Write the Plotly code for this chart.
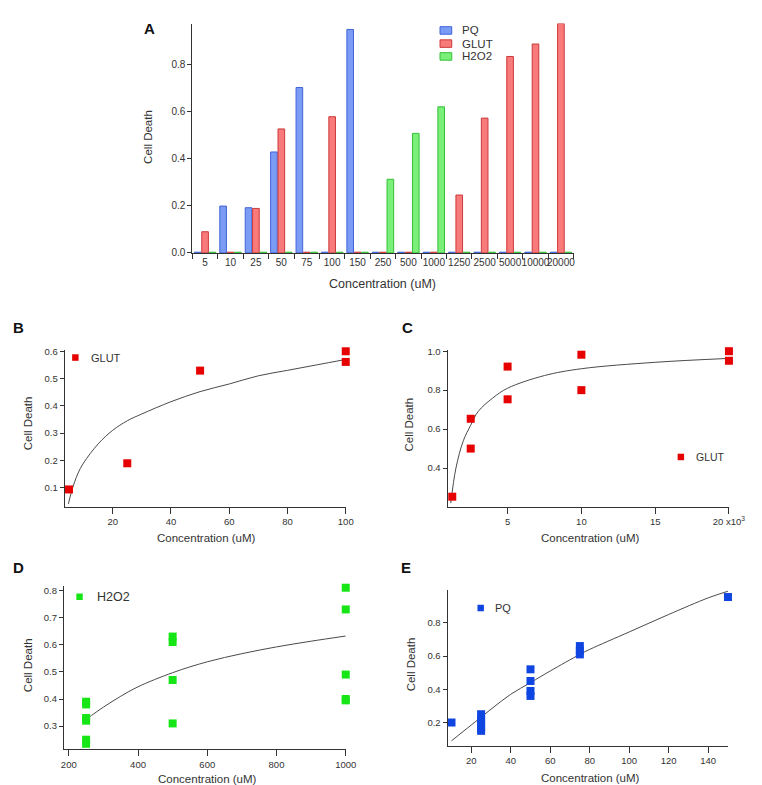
import plotly.graph_objects as go

# panel A - bar chart, cell death per concentration
conc_labels = ['5', '10', '25', '50', '75', '100', '150', '250', '500', '1000',
               '1250', '2500', '5000', '10000', '20000']
pq_bar = [0, 0.199, 0.192, 0.429, 0.703, 0, 0.950, 0, 0, 0, 0, 0, 0, 0, 0]
glut_bar = [0.090, 0, 0.189, 0.527, 0, 0.579, 0, 0, 0, 0, 0.246, 0.573, 0.835, 0.888, 0.975]
h2o2_bar = [0, 0, 0, 0, 0, 0, 0, 0.313, 0.508, 0.621, 0, 0, 0, 0, 0]

# panel B - GLUT low range
glut_lo_x = [5, 25, 50, 100, 100]
glut_lo_y = [0.093, 0.189, 0.529, 0.600, 0.561]
glut_lo_fit_x = [4.8, 6, 8, 10, 15, 20, 25, 30, 40, 50, 60, 70, 80, 90, 100]
glut_lo_fit_y = [0.04, 0.09, 0.15, 0.19, 0.26, 0.31, 0.345, 0.37, 0.415, 0.452, 0.48, 0.51, 0.53, 0.55, 0.57]

# panel C - GLUT high range
glut_hi_x = [1250, 2500, 2500, 5000, 5000, 10000, 10000, 20000, 20000]
glut_hi_y = [0.253, 0.653, 0.500, 0.921, 0.753, 0.982, 0.800, 1.000, 0.951]
glut_hi_fit_x = [1150, 1500, 2000, 2500, 3000, 4000, 5000, 7500, 10000, 15000, 20000]
glut_hi_fit_y = [0.22, 0.40, 0.54, 0.62, 0.69, 0.76, 0.81, 0.875, 0.91, 0.943, 0.963]

# panel D - H2O2
h2o2_x = [250, 250, 250, 250, 250, 250, 500, 500, 500, 500, 1000, 1000, 1000, 1000, 1000]
h2o2_y = [0.39, 0.38, 0.33, 0.32, 0.25, 0.235, 0.63, 0.61, 0.47, 0.31, 0.81, 0.73, 0.49, 0.40, 0.395]
h2o2_fit_x = [250, 300, 350, 400, 500, 600, 700, 800, 900, 1000]
h2o2_fit_y = [0.325, 0.37, 0.41, 0.445, 0.497, 0.537, 0.567, 0.592, 0.613, 0.632]

# panel E - PQ
pq_x = [10, 25, 25, 25, 25, 25, 50, 50, 50, 50, 75, 75, 75, 150]
pq_y = [0.20, 0.25, 0.22, 0.20, 0.17, 0.15, 0.52, 0.45, 0.39, 0.36, 0.66, 0.63, 0.61, 0.955]
pq_fit_x = [10, 20, 30, 40, 50, 60, 75, 80, 100, 120, 140, 150]
pq_fit_y = [0.09, 0.185, 0.28, 0.37, 0.44, 0.51, 0.61, 0.64, 0.745, 0.85, 0.95, 0.99]

W, H = 762, 785
FONT = "Liberation Sans, Arial, sans-serif"
TXT = "#333333"
AX = "#333333"


def fx(p):
    return p / W


def fy(p):
    return 1 - p / H


fig = go.Figure()

# --- panel A bars
bar_styles = [("PQ", pq_bar, "#7b9cf5", "#3f63d8"),
              ("GLUT", glut_bar, "#f87a7a", "#cc3a3a"),
              ("H2O2", h2o2_bar, "#7af07a", "#35c035")]
for name, vals, fill, edge in bar_styles:
    # zero bars are drawn as a thin coloured line on the baseline
    shown = [v if v > 0 else 0.003 for v in vals]
    fig.add_trace(go.Bar(x=conc_labels, y=shown, name=name, marker_color=fill,
                         marker_line_color=edge, marker_line_width=1,
                         xaxis="x", yaxis="y", showlegend=False))

line_col = "#4a4a4a"


def scatter_panel(n, xs, ys, fx_, fy_, color):
    fig.add_trace(go.Scatter(x=fx_, y=fy_, mode="lines", line=dict(color=line_col, width=1, shape="spline"),
                             xaxis="x%d" % n, yaxis="y%d" % n, showlegend=False))
    fig.add_trace(go.Scatter(x=xs, y=ys, mode="markers",
                             marker=dict(symbol="square", size=8, color=color, line_width=0),
                             cliponaxis=False, xaxis="x%d" % n, yaxis="y%d" % n, showlegend=False))


RED = "#e60000"
GREEN = "#16e616"
BLUE = "#0f45e0"
scatter_panel(2, glut_lo_x, glut_lo_y, glut_lo_fit_x, glut_lo_fit_y, RED)
scatter_panel(3, glut_hi_x, glut_hi_y, glut_hi_fit_x, glut_hi_fit_y, RED)
scatter_panel(4, h2o2_x, h2o2_y, h2o2_fit_x, h2o2_fit_y, GREEN)
scatter_panel(5, pq_x, pq_y, pq_fit_x, pq_fit_y, BLUE)

tickfont = dict(family=FONT, size=9.5, color=TXT)
common = dict(showgrid=False, zeroline=False, showline=True, linecolor=AX, linewidth=1,
              ticks="outside", tickcolor=AX, tickwidth=1, tickfont=tickfont)


def xax(x0, x1, y, rng, **kw):
    d = dict(common)
    d.update(domain=[fx(x0), fx(x1)], anchor=kw.pop("anchor"), range=rng, ticklen=6, tickangle=0)
    d.update(kw)
    return d


def yax(y_top, y_bot, rng, **kw):
    d = dict(common)
    d.update(domain=[fy(y_bot), fy(y_top)], anchor=kw.pop("anchor"), range=rng, ticklen=4)
    d.update(kw)
    return d


fig.update_layout(
    width=W, height=H, margin=dict(l=0, r=0, t=0, b=0),
    paper_bgcolor="white", plot_bgcolor="white",
    barmode="group", bargap=0.13, bargroupgap=0.1,
    font=dict(family=FONT, color=TXT),
    xaxis=xax(186, 577, 244, [-0.5, 14.5], anchor="y", type="category", ticklen=5,
              tickson="boundaries", tickfont=dict(family=FONT, size=10, color=TXT)),
    yaxis=yax(11.7, 244, [0, 0.975], anchor="x", tickvals=[0, 0.2, 0.4, 0.6, 0.8],
              tickformat=".1f", tickfont=dict(family=FONT, size=10, color=TXT)),
    xaxis2=xax(55, 343.3, 501, [3.5, 100], anchor="y2", tickvals=[20, 40, 60, 80, 100]),
    yaxis2=yax(342, 501, [0.03, 0.606], anchor="x2", tickvals=[0.1, 0.2, 0.3, 0.4, 0.5, 0.6],
               tickformat=".1f"),
    xaxis3=xax(447.7, 736.3, 501, [930, 20000], anchor="y3", tickvals=[5000, 10000, 15000, 20000],
               ticktext=["5", "10", "15", "20 x10<sup>3</sup>"]),
    yaxis3=yax(342, 501, [0.202, 1.008], anchor="x3", tickvals=[0.4, 0.6, 0.8, 1.0],
               tickformat=".1f"),
    xaxis4=xax(54.3, 343.3, 747, [186, 1000], anchor="y4", tickvals=[200, 400, 600, 800, 1000]),
    yaxis4=yax(581.5, 747, [0.214, 0.816], anchor="x4", tickvals=[0.3, 0.4, 0.5, 0.6, 0.7, 0.8],
               tickformat=".1f"),
    xaxis5=xax(447.7, 735.3, 743, [8, 150], anchor="y5", tickvals=[20, 40, 60, 80, 100, 120, 140]),
    yaxis5=yax(585, 743, [0.0616, 1.0], anchor="x5", tickvals=[0.2, 0.4, 0.6, 0.8],
               tickformat=".1f"),
)

annots = []


def text(x, y, s, size, anchor="center", angle=0, bold=False):
    annots.append(dict(x=fx(x), y=fy(y), xref="paper", yref="paper", text="<b>%s</b>" % s if bold else s,
                       showarrow=False, xanchor=anchor, yanchor="middle", textangle=angle, borderpad=0,
                       font=dict(family=FONT, size=size, color="#111111" if bold else TXT)))


# panel letters
text(142, 17, "A", 15, bold=True)
text(8, 320, "B", 15, bold=True)
text(407, 320, "C", 15, bold=True)
text(8, 563, "D", 15, bold=True)
text(405, 563, "E", 15, bold=True)

# axis titles
text(141, 126, "Cell Death", 11.5, angle=-90)
text(381, 276, "Concentration (uM)", 12.5)
for cx, cy in [(17, 417), (408, 418), (17, 662), (410, 661)]:
    text(cx, cy, "Cell Death", 11.5, angle=-90)
for cx, cy in [(201, 533), (594, 533), (202, 777), (594, 776)]:
    text(cx, cy, "Concentration (uM)", 11.5)

shapes = []

# legend A
for (name, _, fill, edge), ly in zip(bar_styles, [18.7, 32, 45]):
    shapes.append(dict(type="rect", xref="paper", yref="paper", x0=fx(440), x1=fx(452),
                       y0=fy(ly + 3.8), y1=fy(ly - 3.8), fillcolor=fill, line=dict(color=edge, width=1)))
    text(461.7, ly, name, 11.5, anchor="left")

# legends B-E
for sx, sy, tx, name, col, fs in [(66, 350, 80.7, "GLUT", RED, 11),
                                  (687, 450.7, 701.7, "GLUT", RED, 10.5),
                                  (70.3, 592.3, 87.3, "H2O2", GREEN, 12.5),
                                  (481.7, 603.7, 495.7, "PQ", BLUE, 11)]:
    shapes.append(dict(type="rect", xref="paper", yref="paper", x0=fx(sx - 3.3), x1=fx(sx + 3.3),
                       y0=fy(sy + 3.3), y1=fy(sy - 3.3), fillcolor=col, line_width=0))
    text(tx, sy, name, fs, anchor="left")

fig.update_layout(annotations=annots, shapes=shapes)
fig.write_html("out.html")
